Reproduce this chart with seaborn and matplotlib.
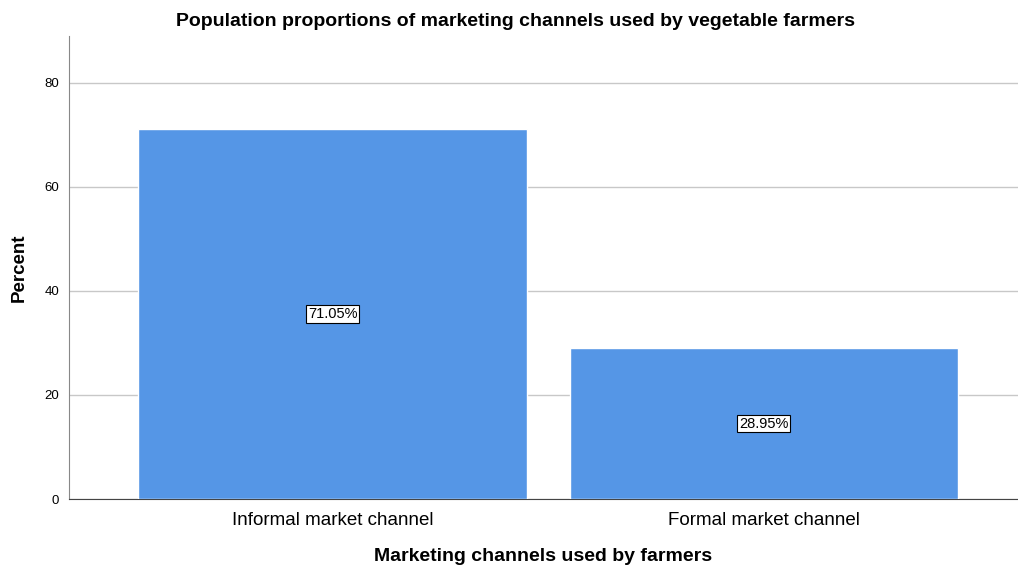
import pandas as pd
import seaborn as sns
import matplotlib.pyplot as plt

# Data
channels = ['Informal market channel', 'Formal market channel']
percents = [71.05, 28.95]
value_labels = ['71.05%', '28.95%']

df = pd.DataFrame({'channel': channels, 'percent': percents})

sns.set_style('white')
plt.rcParams['font.family'] = ['Liberation Sans', 'DejaVu Sans']
plt.rcParams['text.color'] = 'black'
plt.rcParams['axes.labelcolor'] = 'black'
plt.rcParams['xtick.color'] = 'black'
plt.rcParams['ytick.color'] = 'black'

fig = plt.figure(figsize=(10.18, 5.65), dpi=100)
ax = fig.add_axes([0.0678, 0.1168, 0.9322, 0.8195])

sns.barplot(x='channel', y='percent', data=df, color='#5596E6', saturation=1,
            width=0.9, ax=ax, zorder=3)

# Labels in the middle of each bar
for i, (p, lab) in enumerate(zip(percents, value_labels)):
    ax.text(i, p / 2, lab, ha='center', va='center', fontsize=10.5, zorder=4,
            bbox=dict(boxstyle='square,pad=0.12', fc='white', ec='black', lw=0.8))

ax.set_ylim(0, 89)
ax.set_xlim(-0.611, 1.589)
ax.set_yticks([0, 20, 40, 60, 80])
ax.yaxis.grid(True, color='#c8c8c8', lw=1, zorder=0)
ax.set_axisbelow(True)

ax.tick_params(axis='y', labelsize=9.5, length=0, pad=7)
ax.tick_params(axis='x', labelsize=13.5, length=0, pad=9)

ax.set_title('Population proportions of marketing channels used by vegetable farmers',
             fontsize=14, fontweight='bold', pad=7, x=0.47)
ax.set_xlabel('Marketing channels used by farmers', fontsize=14, fontweight='bold', labelpad=14)
ax.set_ylabel('Percent', fontsize=13.5, fontweight='bold', labelpad=12)

for s in ['top', 'right']:
    ax.spines[s].set_visible(False)
ax.spines['left'].set_color('#888888')
ax.spines['bottom'].set_color('#444444')

fig.savefig('out.png', dpi=100)
